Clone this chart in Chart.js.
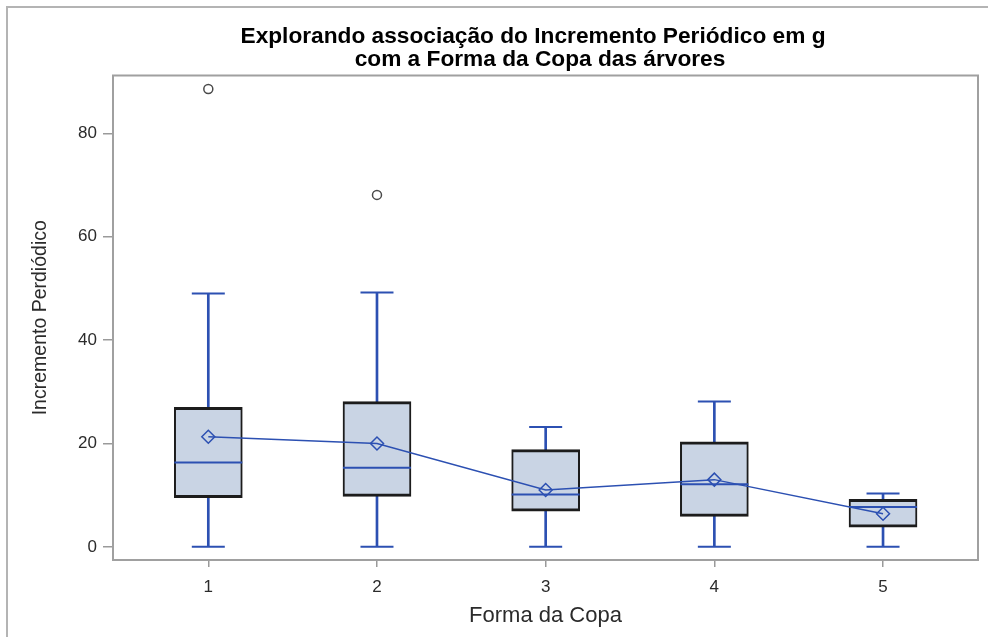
<!DOCTYPE html>
<html>
<head>
<meta charset="utf-8">
<script src="https://cdn.jsdelivr.net/npm/chart.js@4.4.1/dist/chart.umd.min.js"></script>
<style>
  html, body { margin: 0; padding: 0; background: #ffffff; }
  #wrap { width: 988px; height: 637px; position: relative; }
</style>
</head>
<body>
<div id="wrap"><canvas id="grafico" width="988" height="637"></canvas></div>
<script>
// Forma da copa (categorias) e resumo de cinco números do incremento periódico
const formas = [1, 2, 3, 4, 5];
const minimos = [0, 0, 0, 0, 0];
const quartil1 = [9.5, 9.75, 6.9, 5.9, 3.8];
const medianas = [16.3, 15.3, 10.1, 12.1, 7.7];
const medias = [21.3, 20.0, 11.0, 13.0, 6.4];
const quartil3 = [27.0, 28.1, 18.8, 20.3, 9.2];
const maximos = [49.0, 49.2, 23.2, 28.1, 10.3];

// Valores atípicos
const outlierForma = [1, 2];
const outlierValor = [88.6, 68.1];

// Marcas do eixo vertical
const yTicks = [0, 20, 40, 60, 80];

// Título em duas linhas
const titulo = ['Explorando associação do Incremento Periódico em g',
                'com a Forma da Copa das árvores'];

const AZUL = '#2c50b2';
const FAMILIA = "'Liberation Sans', Arial, sans-serif";
const TEXTO = '#2b2b2b';

const pares = (a, b) => formas.map((f, i) => ({ x: f, y: [a[i], b[i]] }));
const pontos = (v) => formas.map((f, i) => ({ x: f, y: v[i] }));

// Moldura da área de plotagem, borda externa e título
const moldura = {
  id: 'moldura',
  beforeDraw(chart) {
    const ctx = chart.ctx;
    ctx.save();
    ctx.strokeStyle = '#b4b4b4';
    ctx.lineWidth = 2;
    ctx.beginPath();
    ctx.moveTo(7, chart.height);
    ctx.lineTo(7, 7);
    ctx.lineTo(chart.width, 7);
    ctx.stroke();
    ctx.restore();
  },
  beforeDatasetsDraw(chart) {
    const { ctx, chartArea: a } = chart;
    ctx.save();
    ctx.strokeStyle = '#a0a0a0';
    ctx.lineWidth = 2;
    ctx.strokeRect(a.left, a.top, a.right - a.left, a.bottom - a.top);
    ctx.restore();
  },
  afterDraw(chart) {
    const ctx = chart.ctx;
    ctx.save();
    ctx.fillStyle = '#000000';
    ctx.font = "bold 22.7px " + FAMILIA;
    ctx.textAlign = 'center';
    ctx.textBaseline = 'middle';
    ctx.fillText(titulo[0], 533, 36.5);
    ctx.fillText(titulo[1], 540, 59.5);
    ctx.restore();
  }
};

new Chart(document.getElementById('grafico'), {
  type: 'bar',
  data: {
    datasets: [
      { // bigode superior
        type: 'bar', data: pares(quartil3, maximos), backgroundColor: AZUL,
        borderWidth: 0, barThickness: 2, grouped: false, order: 10
      },
      { // bigode inferior
        type: 'bar', data: pares(minimos, quartil1), backgroundColor: AZUL,
        borderWidth: 0, barThickness: 2, grouped: false, order: 10
      },
      { // caixas Q1–Q3
        type: 'bar', data: pares(quartil1, quartil3), backgroundColor: '#c9d4e4',
        borderColor: '#1c1c1c', borderWidth: { top: 3, bottom: 3, left: 2, right: 2 },
        borderSkipped: false, barThickness: 68, grouped: false, order: 8
      },
      { // medianas
        type: 'scatter', data: pontos(medianas), pointStyle: 'line', pointRadius: 34,
        borderColor: AZUL, borderWidth: 2, order: 6
      },
      { // extremidades dos bigodes (máximo)
        type: 'scatter', data: pontos(maximos), pointStyle: 'line', pointRadius: 16.5,
        borderColor: AZUL, borderWidth: 2, order: 6
      },
      { // extremidades dos bigodes (mínimo)
        type: 'scatter', data: pontos(minimos), pointStyle: 'line', pointRadius: 16.5,
        borderColor: AZUL, borderWidth: 2, order: 6
      },
      { // médias ligadas
        type: 'line', data: pontos(medias), borderColor: AZUL, borderWidth: 1.5,
        pointStyle: 'rectRot', pointRadius: 6.5, pointBorderWidth: 1.5,
        pointBorderColor: AZUL, pointBackgroundColor: 'rgba(0,0,0,0)',
        fill: false, tension: 0, order: 2
      },
      { // valores atípicos
        type: 'scatter',
        data: outlierForma.map((f, i) => ({ x: f, y: outlierValor[i] })),
        pointStyle: 'circle', pointRadius: 4.5, borderWidth: 1.5,
        borderColor: '#4a4a4a', backgroundColor: '#ffffff', order: 1
      }
    ]
  },
  options: {
    responsive: false,
    animation: false,
    layout: { autoPadding: false, padding: { left: 0, right: 10, top: 75.5, bottom: 0 } },
    plugins: {
      legend: { display: false },
      tooltip: { enabled: false },
      title: { display: false }
    },
    scales: {
      x: {
        type: 'linear',
        min: 0.435,
        max: 5.563,
        offset: false,
        border: { display: false },
        grid: { offset: false, drawOnChartArea: false, tickLength: 7, color: '#9a9a9a', lineWidth: 1.5 },
        afterBuildTicks: (s) => { s.ticks = formas.map(v => ({ value: v })); },
        afterFit: (s) => { s.height = 77; s.paddingLeft = 0; s.paddingRight = 0; },
        ticks: {
          color: TEXTO, padding: 10,
          font: { family: FAMILIA, size: 17 },
          callback: (v) => String(v)
        },
        title: {
          display: true, text: 'Forma da Copa', color: TEXTO,
          font: { family: FAMILIA, size: 22 },
          padding: { top: 0, bottom: 8 }
        }
      },
      y: {
        type: 'linear',
        min: -2.55,
        max: 91.2,
        border: { display: false },
        grid: { drawOnChartArea: false, tickLength: 10, color: '#9a9a9a', lineWidth: 1.5 },
        afterBuildTicks: (s) => { s.ticks = yTicks.map(v => ({ value: v })); },
        afterFit: (s) => { s.width = 113; s.paddingTop = 0; s.paddingBottom = 0; },
        ticks: {
          color: TEXTO, padding: 6,
          font: { family: FAMILIA, size: 17 },
          callback: (v) => String(v)
        },
        title: {
          display: true, text: 'Incremento Perdiódico', color: TEXTO,
          font: { family: FAMILIA, size: 19.5 },
          padding: { top: 29, bottom: 0 }
        }
      }
    }
  },
  plugins: [moldura]
});
</script>
</body>
</html>
